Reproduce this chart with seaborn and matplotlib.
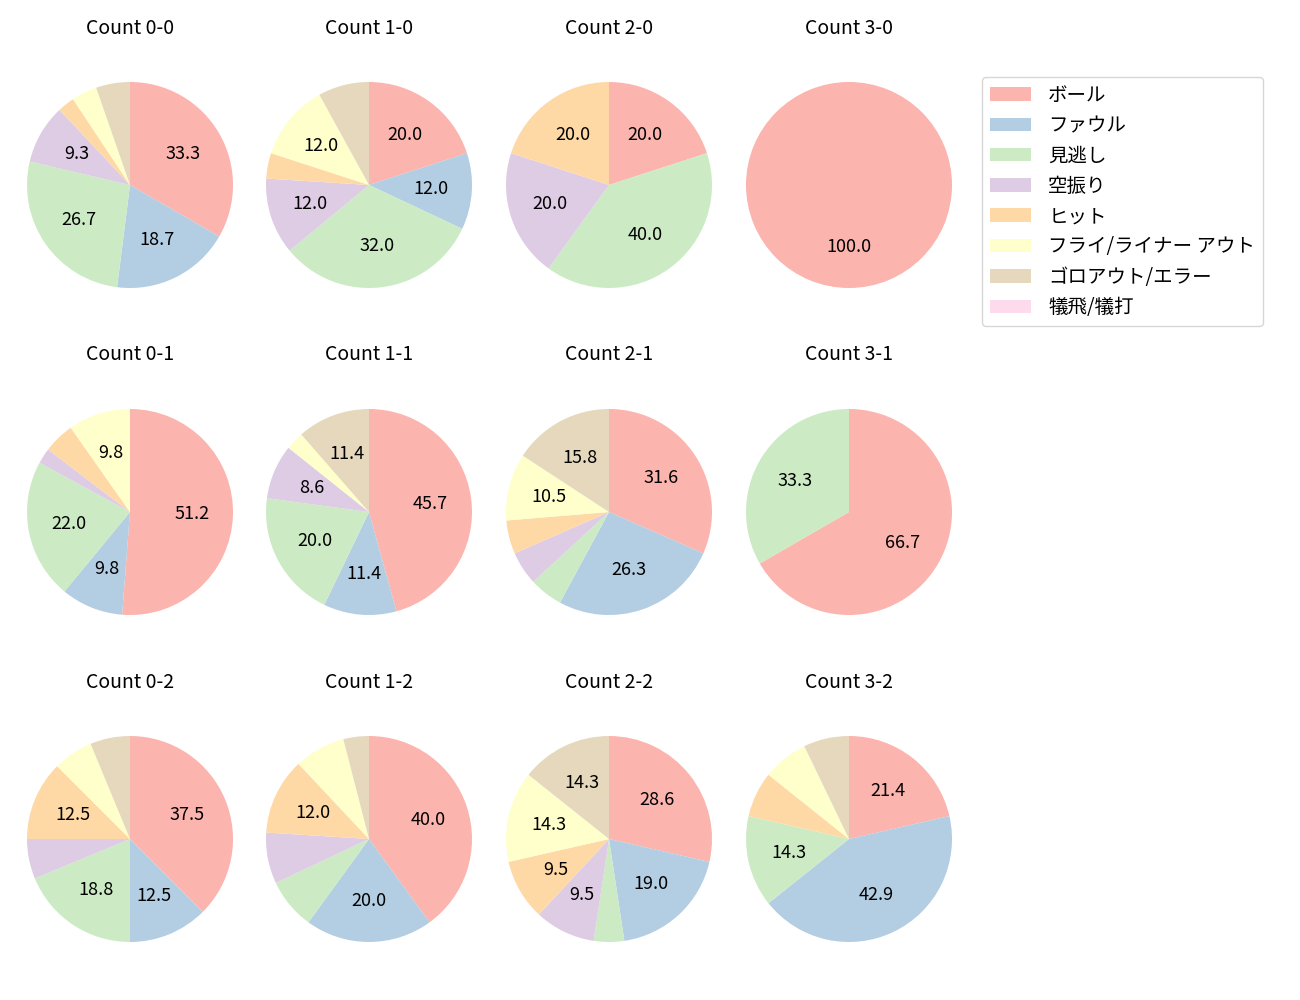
import matplotlib
matplotlib.use("Agg")
import matplotlib.pyplot as plt
from matplotlib.patches import Patch
import seaborn as sns

sns.set_style("white")
plt.rcParams['font.family'] = ['Noto Sans CJK JP', 'DejaVu Sans']
plt.rcParams['text.color'] = 'black'

categories = ["ボール", "ファウル", "見逃し", "空振り", "ヒット",
              "フライ/ライナー アウト", "ゴロアウト/エラー", "犠飛/犠打"]

titles = [["Count 0-0", "Count 1-0", "Count 2-0", "Count 3-0"],
          ["Count 0-1", "Count 1-1", "Count 2-1", "Count 3-1"],
          ["Count 0-2", "Count 1-2", "Count 2-2", "Count 3-2"]]

# counts per category (order as in categories)
c00 = [25, 14, 20, 7, 2, 3, 4, 0]
c10 = [5, 3, 8, 3, 1, 3, 2, 0]
c20 = [1, 0, 2, 1, 1, 0, 0, 0]
c30 = [1, 0, 0, 0, 0, 0, 0, 0]
c01 = [21, 4, 9, 1, 2, 4, 0, 0]
c11 = [16, 4, 7, 3, 0, 1, 4, 0]
c21 = [6, 5, 1, 1, 1, 2, 3, 0]
c31 = [2, 0, 1, 0, 0, 0, 0, 0]
c02 = [6, 2, 3, 1, 2, 1, 1, 0]
c12 = [10, 5, 2, 2, 3, 2, 1, 0]
c22 = [6, 4, 1, 2, 2, 3, 3, 0]
c32 = [3, 6, 2, 0, 1, 1, 1, 0]

data = [[c00, c10, c20, c30],
        [c01, c11, c21, c31],
        [c02, c12, c22, c32]]

colors = sns.color_palette("Pastel1", 8)

W, H = 1300, 1000
fig = plt.figure(figsize=(13, 10), dpi=100)

col_cx = [130, 369, 609, 849]
row_cy = [185, 512, 839]
title_y = [28, 355, 682]
R = 103
side = 2.5 * R

def fmt(p):
    return f"{p:.1f}" if p > 8.05 else ""

for r in range(3):
    for c in range(4):
        cx, cy = col_cx[c], row_cy[r]
        ax = fig.add_axes([(cx - side / 2) / W, 1 - (cy + side / 2) / H, side / W, side / H])
        vals = data[r][c]
        ax.pie(vals, colors=colors, startangle=90, counterclock=False,
               autopct=fmt, textprops={'fontsize': 13, 'color': 'black'},
               wedgeprops={'linewidth': 0, 'edgecolor': 'none'})
        ax.set_xlim(-1.25, 1.25)
        ax.set_ylim(-1.25, 1.25)
        fig.text(cx / W, 1 - title_y[r] / H, titles[r][c], ha='center', va='center',
                 fontsize=14, color='black')

handles = [Patch(facecolor=colors[i], edgecolor='none', label=categories[i]) for i in range(8)]
fig.legend(handles=handles, loc='upper left', bbox_to_anchor=(982 / W, 1 - 77 / H),
           borderaxespad=0, fontsize=14, handlelength=2.1, handletextpad=0.9,
           labelspacing=0.48, frameon=True)

fig.savefig("out.png", dpi=100)
